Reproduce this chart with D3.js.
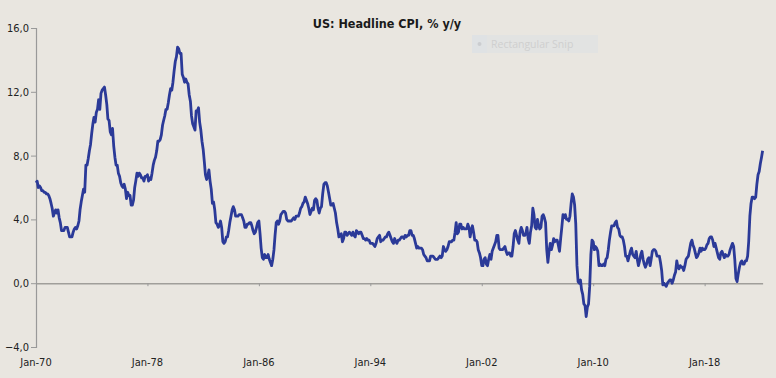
<!DOCTYPE html>
<html>
<head>
<meta charset="utf-8">
<script src="https://cdn.jsdelivr.net/npm/d3@7/dist/d3.min.js"></script>
<style>
  html, body { margin: 0; padding: 0; background: #E9E6E0; }
  svg { display: block; }
</style>
</head>
<body>
<svg id="chart" width="776" height="378"></svg>
<script>
// ---- DATA (US CPI, % y/y, monthly, from Jan 1970) ----
const title = "US: Headline CPI, % y/y";
const startYear = 1970;
const cpi1970s = [
  6.3,6.4,6.0,6.1,6.0,5.8,5.8,5.7,5.7,5.6,5.6,5.5,
  5.3,5.0,4.7,4.2,4.4,4.6,4.4,4.6,4.1,3.8,3.3,3.3,
  3.3,3.5,3.5,3.5,3.2,2.9,2.9,2.9,3.2,3.4,3.5,3.4,
  3.6,3.9,4.6,5.1,5.5,5.9,5.7,7.4,7.4,7.8,8.3,8.7,
  9.4,10.0,10.4,10.1,10.7,10.9,11.5,10.9,11.9,12.1,12.2,12.3,
  11.8,11.2,10.3,10.2,9.5,9.3,9.7,8.6,7.9,7.4,7.4,6.9,
  6.7,6.3,6.1,6.0,6.2,5.9,5.3,5.7,5.5,5.5,4.9,4.9,
  5.2,6.0,6.4,6.9,6.7,6.9,6.8,6.6,6.6,6.4,6.7,6.7,
  6.8,6.4,6.6,6.5,6.9,7.4,7.7,7.9,8.3,8.9,8.9,9.0,
  9.3,9.9,10.2,10.5,10.9,10.9,11.3,11.8,12.2,12.1,12.6,13.3
];
const cpi1980s = [
  13.9,14.2,14.8,14.7,14.4,14.4,13.1,12.9,12.6,12.8,12.6,12.5,
  11.8,11.4,10.5,10.0,9.8,9.6,10.8,10.8,11.0,10.1,9.6,8.9,
  8.4,7.6,6.8,6.5,6.7,7.1,6.4,5.9,5.0,5.1,4.6,3.8,
  3.7,3.5,3.6,3.9,3.5,2.6,2.5,2.6,2.9,2.9,3.3,3.8,
  4.2,4.6,4.8,4.6,4.2,4.2,4.2,4.3,4.3,4.3,4.1,3.9,
  3.5,3.5,3.7,3.7,3.8,3.8,3.6,3.3,3.1,3.2,3.5,3.8,
  3.9,3.1,2.2,1.6,1.5,1.8,1.6,1.6,1.8,1.5,1.3,1.1,
  1.5,2.1,3.0,3.8,3.9,3.7,3.9,4.3,4.4,4.5,4.5,4.4,
  4.0,3.9,3.9,3.9,3.9,4.0,4.1,4.0,4.2,4.2,4.2,4.4,
  4.7,4.8,5.0,5.1,5.4,5.2,5.0,4.7,4.3,4.5,4.7,4.6
];
const cpi1990s = [
  5.2,5.3,5.2,4.7,4.4,4.7,4.8,5.6,6.2,6.3,6.3,6.1,
  5.7,5.3,4.9,4.9,5.0,4.7,4.4,3.8,3.4,2.9,3.0,3.1,
  2.6,2.8,3.2,3.2,3.0,3.1,3.2,3.1,3.0,3.2,3.0,2.9,
  3.3,3.2,3.1,3.2,3.2,3.0,2.8,2.8,2.7,2.8,2.7,2.7,
  2.5,2.5,2.5,2.4,2.3,2.5,2.8,2.9,3.0,2.6,2.7,2.7,
  2.8,2.9,2.9,3.1,3.2,3.0,2.8,2.6,2.5,2.8,2.6,2.5,
  2.7,2.7,2.8,2.9,2.9,2.8,3.0,2.9,3.0,3.0,3.3,3.3,
  3.0,3.0,2.8,2.5,2.2,2.3,2.2,2.2,2.2,2.1,1.8,1.7,
  1.6,1.4,1.4,1.4,1.7,1.7,1.7,1.6,1.5,1.5,1.5,1.6,
  1.7,1.6,1.7,2.3,2.1,2.0,2.1,2.3,2.6,2.6,2.6,2.7
];
const cpi2000s = [
  2.7,3.2,3.8,3.1,3.2,3.7,3.7,3.4,3.5,3.4,3.4,3.4,
  3.7,3.5,2.9,3.3,3.6,3.2,2.7,2.7,2.6,2.1,1.9,1.6,
  1.1,1.1,1.5,1.6,1.2,1.1,1.5,1.8,1.5,2.0,2.2,2.4,
  2.6,3.0,3.0,2.2,2.1,2.1,2.1,2.2,2.3,2.0,1.8,1.9,
  1.9,1.7,1.7,2.3,3.1,3.3,3.0,2.7,2.5,3.2,3.5,3.3,
  3.0,3.0,3.1,3.5,2.8,2.5,3.2,3.6,4.7,4.3,3.5,3.4,
  4.0,3.6,3.4,3.5,4.2,4.3,4.1,3.8,2.1,1.3,2.0,2.5,
  2.1,2.4,2.8,2.6,2.7,2.7,2.4,2.0,2.8,3.5,4.3,4.1,
  4.3,4.0,4.0,3.9,4.2,5.0,5.6,5.4,4.9,3.7,1.1,0.1,
  0.0,0.2,-0.4,-0.7,-1.3,-1.4,-2.1,-1.5,-1.3,-0.2,1.8,2.7
];
const cpi2010s = [
  2.6,2.1,2.3,2.2,2.0,1.1,1.2,1.1,1.1,1.2,1.1,1.5,
  1.6,2.1,2.7,3.2,3.6,3.6,3.6,3.8,3.9,3.5,3.4,3.0,
  2.9,2.9,2.7,2.3,1.7,1.7,1.4,1.7,2.0,2.2,1.8,1.7,
  1.6,2.0,1.5,1.1,1.4,1.8,2.0,1.5,1.2,1.0,1.2,1.5,
  1.6,1.1,1.5,2.0,2.1,2.1,2.0,1.7,1.7,1.7,1.3,0.8,
  -0.1,0.0,-0.1,-0.2,0.0,0.1,0.2,0.2,0.0,0.2,0.5,0.7,
  1.4,1.0,0.9,1.1,1.0,1.0,0.8,1.1,1.5,1.6,1.7,2.1,
  2.5,2.7,2.4,2.2,1.9,1.6,1.7,1.9,2.2,2.0,2.2,2.1,
  2.1,2.2,2.4,2.5,2.8,2.9,2.9,2.7,2.3,2.5,2.2,1.9,
  1.6,1.5,1.9,2.0,1.8,1.6,1.8,1.7,1.7,1.8,2.1,2.3
];
const cpi2020s = [
  2.5,2.3,1.5,0.3,0.1,0.6,1.0,1.3,1.4,1.2,1.2,1.4,
  1.4,1.7,2.6,4.2,5.0,5.4,5.4,5.3,5.4,6.2,6.8,7.0,
  7.5,7.9,8.3
];
const yTicks = [-4, 0, 4, 8, 12, 16];
const xTickYears = [1970, 1978, 1986, 1994, 2002, 2010, 2018];
const xTickLabels = ["Jan-70", "Jan-78", "Jan-86", "Jan-94", "Jan-02", "Jan-10", "Jan-18"];

// ---- BUILD ----
const values = [].concat(cpi1970s, cpi1980s, cpi1990s, cpi2000s, cpi2010s, cpi2020s);
const series = values.map((v, i) => ({ date: new Date(startYear, i, 1), value: v }));

const svg = d3.select("#chart");
const W = 776, H = 378;
svg.append("rect").attr("width", W).attr("height", H).attr("fill", "#E9E6E0");

const mLeft = 36, mTop = 28, mBottom = 347;
const firstDate = new Date(startYear, 0, 1);
const lastDate = series[series.length - 1].date;
const x = d3.scaleTime()
  .domain([firstDate, lastDate])
  .range([mLeft, mLeft + (lastDate - firstDate) / (365.25 * 864e5) * 13.93]);
const y = d3.scaleLinear().domain([-4, 16]).range([mBottom, mTop]);

const fontFam = "'DejaVu Sans Condensed', 'DejaVu Sans', sans-serif";

// title
svg.append("text")
  .attr("x", 387).attr("y", 28)
  .attr("text-anchor", "middle")
  .attr("font-family", fontFam)
  .attr("font-weight", "bold")
  .attr("font-size", 12.5)
  .attr("fill", "#1a1a1a")
  .text(title);

// faint "Rectangular Snip" artifact
const snip = svg.append("g").attr("transform", "translate(472,35)");
snip.append("rect").attr("width", 126).attr("height", 18).attr("fill", "#E2E3E2");
snip.append("rect").attr("x", 0).attr("y", 0).attr("width", 15).attr("height", 18).attr("fill", "#DFE2E4");
snip.append("circle").attr("cx", 7.5).attr("cy", 9).attr("r", 2).attr("fill", "#CBCDD0");
snip.append("text").attr("x", 19).attr("y", 13)
  .attr("font-family", "'Open Sans', sans-serif").attr("font-size", 10.5)
  .attr("fill", "#CFCFCF").text("Rectangular Snip");

// y axis
const yAxis = d3.axisLeft(y).tickValues(yTicks).tickSize(5).tickPadding(2)
  .tickFormat(d => d3.format(".1f")(d).replace(".", ","));
const gy = svg.append("g").attr("transform", `translate(${mLeft},0)`).call(yAxis);
gy.select(".domain").attr("stroke", "#999").attr("stroke-width", 1.2);
gy.selectAll(".tick line").attr("stroke", "#999");
gy.selectAll(".tick text").attr("font-family", fontFam).attr("font-size", 11).attr("fill", "#222");

// x axis along zero line
const xAxis = d3.axisBottom(x)
  .tickValues(xTickYears.map(yr => new Date(yr, 0, 1)))
  .tickSize(3).tickSizeOuter(0).tickFormat("");
const gx = svg.append("g").attr("transform", `translate(0,${y(0)})`).call(xAxis);
gx.select(".domain").attr("stroke", "#A09E9A").attr("stroke-width", 1.5);
gx.selectAll(".tick line").attr("stroke", "#999");

// x labels (low position)
svg.append("g").selectAll("text")
  .data(xTickYears)
  .join("text")
  .attr("x", (d) => x(new Date(d, 0, 1)))
  .attr("y", 366)
  .attr("text-anchor", "middle")
  .attr("font-family", fontFam)
  .attr("font-size", 11)
  .attr("fill", "#222")
  .text((d, i) => xTickLabels[i]);

// line
const line = d3.line().x(d => x(d.date)).y(d => y(d.value));
svg.append("path")
  .datum(series)
  .attr("d", line)
  .attr("fill", "none")
  .attr("stroke", "#2B3A98")
  .attr("stroke-width", 2.8)
  .attr("stroke-linejoin", "round");
</script>
</body>
</html>
